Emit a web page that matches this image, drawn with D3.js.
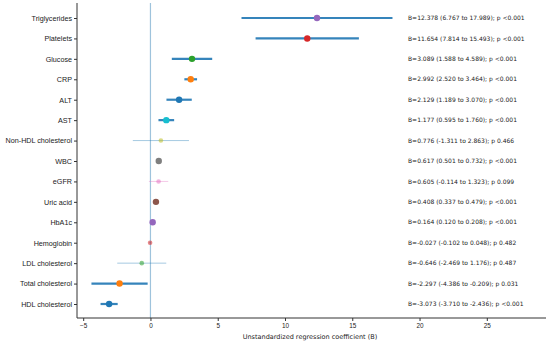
<!DOCTYPE html>
<html lang="en">
<head>
	<meta charset="UTF-8">
	<title>Forest plot</title>
	<script src="https://d3js.org/d3.v7.min.js"></script>
	<style>
		body {
			margin: 0;
			background-color: white;
		}
		svg {
			display: block;
			background-color: white;
			font-family: "DejaVu Sans", sans-serif;
		}
		.axis path,
		.axis line {
			fill: none;
			stroke: #333;
		}
		.axis text {
			fill: #222;
		}
	</style>
</head>
<body>
	<script>
		// rows from top to bottom
		var labels = ['Triglycerides', 'Platelets', 'Glucose', 'CRP', 'ALT', 'AST', 'Non-HDL cholesterol', 'WBC',
			'eGFR', 'Uric acid', 'HbA1c', 'Hemoglobin', 'LDL cholesterol', 'Total cholesterol', 'HDL cholesterol'];
		var coef = [12.378, 11.654, 3.089, 2.992, 2.129, 1.177, 0.776, 0.617, 0.605, 0.408, 0.164, -0.027, -0.646, -2.297, -3.073];
		var ciLow = [6.767, 7.814, 1.588, 2.520, 1.189, 0.595, -1.311, 0.501, -0.114, 0.337, 0.120, -0.102, -2.469, -4.386, -3.710];
		var ciHigh = [17.989, 15.493, 4.589, 3.464, 3.070, 1.760, 2.863, 0.732, 1.323, 0.479, 0.208, 0.048, 1.176, -0.209, -2.436];
		var pText = ['<0.001', '<0.001', '<0.001', '<0.001', '<0.001', '<0.001', '0.466', '<0.001',
			'0.099', '<0.001', '<0.001', '0.482', '0.487', '0.031', '<0.001'];
		var xTicks = [-5, 0, 5, 10, 15, 20, 25];

		// matplotlib tab10 cycle, assigned from the bottom row upwards
		var tab10 = ['#1f77b4', '#ff7f0e', '#2ca02c', '#d62728', '#9467bd', '#8c564b', '#e377c2', '#7f7f7f', '#bcbd22', '#17becf'];

		var width = 550,
			height = 341;

		var x = d3.scaleLinear()
			.domain([-5.46, 29.4])
			.range([77, 546]);

		var y = d3.scalePoint()
			.domain(labels)
			.range([18, 304]);

		var svg = d3.select('body')
			.append('svg')
			.attr('width', width)
			.attr('height', height);

		var rows = labels.map(function (d, i) {
			return {
				label: d,
				b: coef[i],
				lo: ciLow[i],
				hi: ciHigh[i],
				p: pText[i],
				sig: pText[i] === '<0.001' || pText[i] === '0.031',
				color: tab10[(labels.length - 1 - i) % 10]
			};
		});

		// reference line at zero
		svg.append('line')
			.attr('x1', x(0))
			.attr('x2', x(0))
			.attr('y1', 3)
			.attr('y2', 318)
			.attr('stroke', '#9ec3dc')
			.attr('stroke-width', 1.2);

		// axes
		svg.append('g')
			.attr('class', 'axis')
			.attr('transform', 'translate(0,318)')
			.call(d3.axisBottom(x).tickValues(xTicks).tickSize(3).tickPadding(2).tickSizeOuter(0).tickFormat(d3.format('d')))
			.call(function (g) {
				g.selectAll('text').attr('font-size', 6.4);
				g.select('.domain').attr('d', 'M77,0H546');
			});

		svg.append('g')
			.attr('class', 'axis')
			.attr('transform', 'translate(77,0)')
			.call(d3.axisLeft(y).tickSize(3).tickPadding(2))
			.call(function (g) {
				g.selectAll('text').attr('font-size', 7.2);
				g.select('.domain').attr('d', 'M0,3V318');
			});

		svg.append('text')
			.attr('x', 310)
			.attr('y', 338.5)
			.attr('text-anchor', 'middle')
			.attr('font-size', 6.5)
			.attr('fill', '#222')
			.text('Unstandardized regression coefficient (B)');

		var g = svg.selectAll('.row')
			.data(rows)
			.enter().append('g')
			.attr('class', 'row');

		g.append('line')
			.attr('x1', function (d) { return x(d.lo); })
			.attr('x2', function (d) { return x(d.hi); })
			.attr('y1', function (d) { return y(d.label); })
			.attr('y2', function (d) { return y(d.label); })
			.attr('stroke', function (d) { return d.label === 'eGFR' ? '#e377c2' : '#1f77b4'; })
			.attr('stroke-opacity', function (d) { return d.sig ? 0.9 : 0.4; })
			.attr('stroke-width', function (d) { return d.sig ? 2.2 : 1; });

		g.append('circle')
			.attr('cx', function (d) { return x(d.b); })
			.attr('cy', function (d) { return y(d.label); })
			.attr('r', function (d) { return d.sig ? 3.2 : 2.3; })
			.attr('fill', function (d) { return d.color; })
			.attr('fill-opacity', function (d) { return d.sig ? 1 : 0.55; });

		g.append('text')
			.attr('x', 408)
			.attr('y', function (d) { return y(d.label); })
			.attr('dy', '0.35em')
			.attr('font-size', 6)
			.attr('fill', '#222')
			.text(function (d) {
				return 'B=' + d.b.toFixed(3) + ' (' + d.lo.toFixed(3) + ' to ' + d.hi.toFixed(3) + '); p ' + d.p;
			});
	</script>
</body>
</html>
